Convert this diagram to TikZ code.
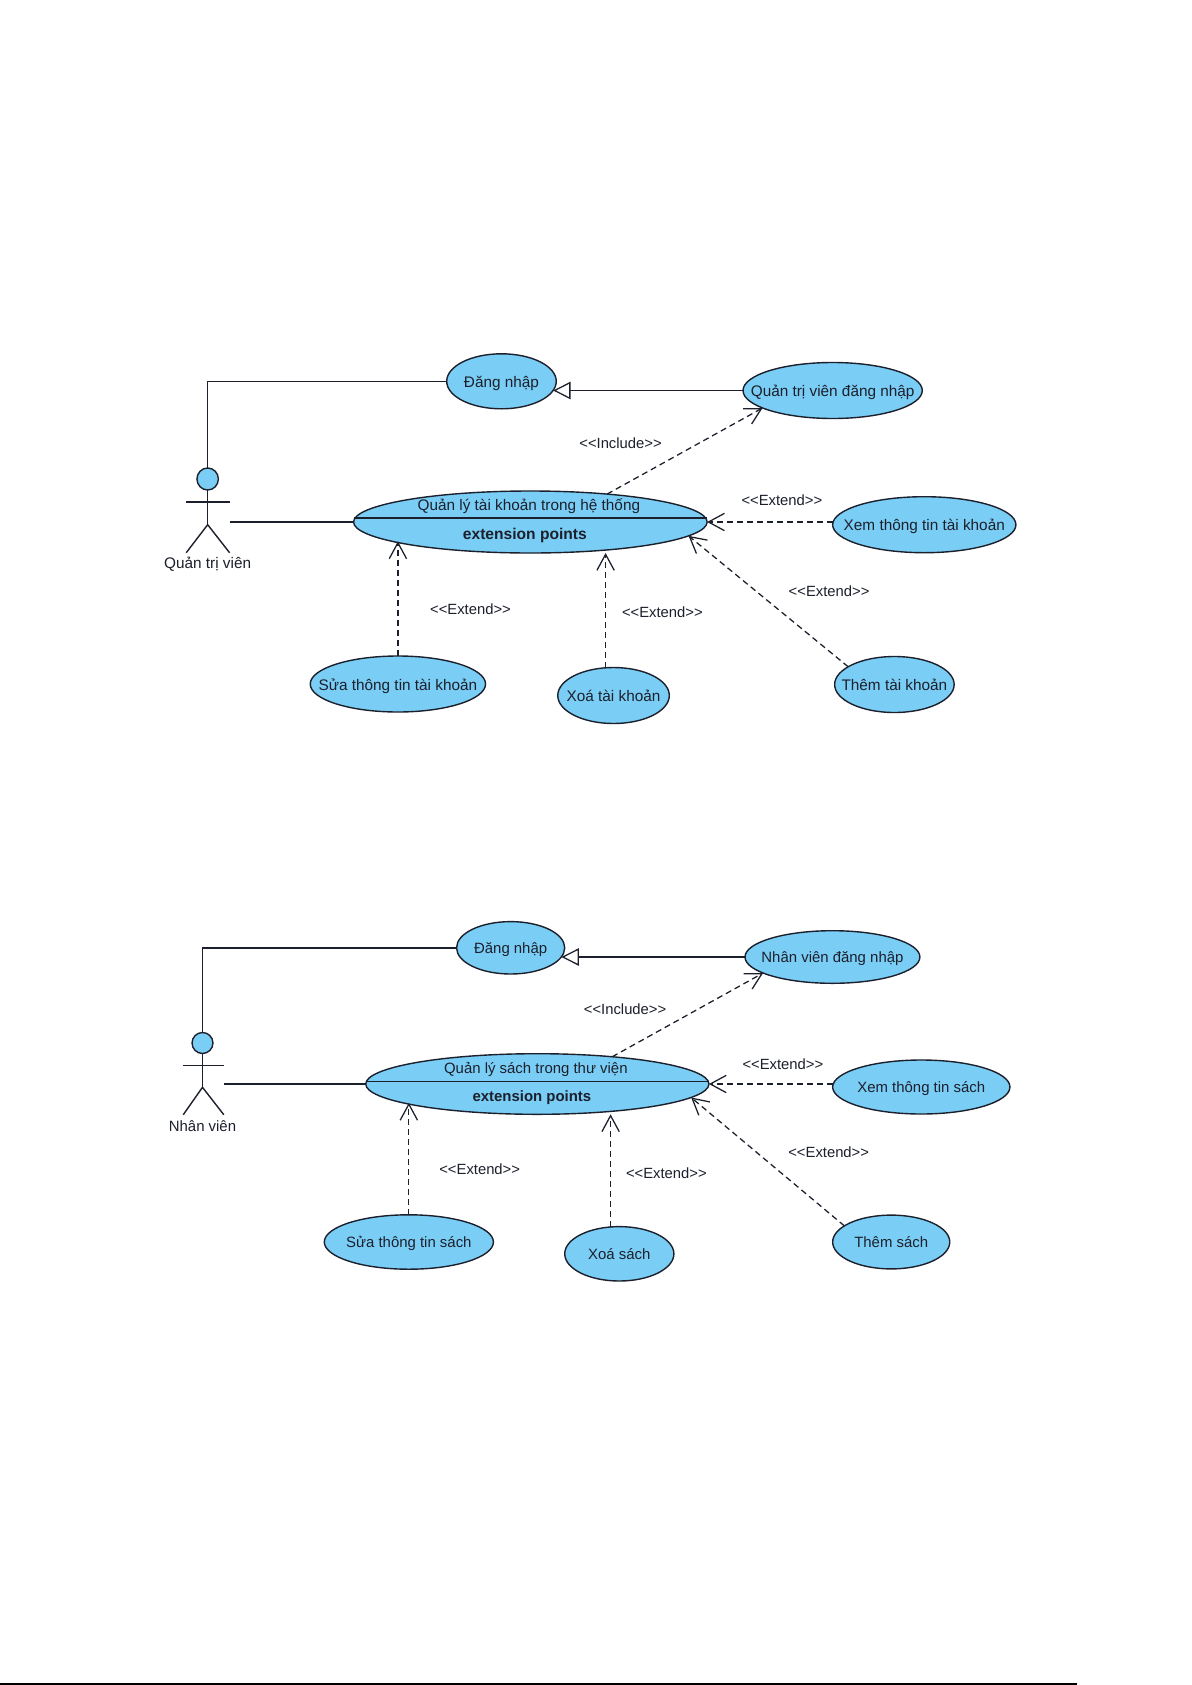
\documentclass[tikz,border=0pt]{standalone}
\usepackage{fontspec}
\setmainfont{Liberation Sans}
\usetikzlibrary{shapes.geometric,arrows.meta}
\definecolor{ucblue}{RGB}{122,205,245}
\definecolor{ln}{RGB}{28,32,44}
\newcommand{\ctext}[1]{\makebox[0pt]{\raisebox{-.4em}[0pt][0pt]{#1}}}
\newcommand{\stExt}{<{}<Extend>{}>}
\newcommand{\stInc}{<{}<Include>{}>}
\tikzset{
  x=0.747pt,y=-0.75pt,
  uc/.style 2 args={ellipse,draw=ln,fill=ucblue,line width=1.05pt,inner sep=0pt,outer sep=0pt,
    minimum width=#1*0.747pt,minimum height=#2*0.75pt,text=ln},
  fa/.style={font=\fontsize{11.5}{14}\selectfont},
  fb/.style={font=\fontsize{11.2}{14}\selectfont},
  txt/.style={text=ln,inner sep=0pt},
  lab/.style={font=\fontsize{11.1}{14}\selectfont,text=ln,inner sep=0pt},
  solidln/.style={draw=ln,line width=1.05pt},
  dep/.style={draw=ln,line width=0.95pt,dash pattern=on 4.5pt off 3pt,
    -{Straight Barb[length=12pt,width=13pt,line width=0.95pt]}},
  gen/.style={draw=ln,line width=1.05pt,-{Triangle[open,fill=white,length=13pt,width=13pt,line width=0.95pt]}},
}
\begin{document}
\begin{tikzpicture}
\useasboundingbox[fill=white] (0pt,0pt) rectangle (894pt,-1263.75pt);

% ---------- first diagram ----------
\node[uc={110}{55},fa] (dn1) at (503.5,381.3) {\ctext{Đăng nhập}};
\node[uc={180}{56},fa] (qtdn) at (836,390.5) {\ctext{Quản trị viên đăng nhập}};
\node[uc={355}{62}] (tk) at (532.5,522) {};
\node[uc={184}{56},fa] (xemtk) at (928,524.7) {\ctext{Xem thông tin tài khoản}};
\node[uc={120}{56},fa] (themtk) at (898,684.5) {\ctext{Thêm tài khoản}};
\node[uc={112}{56},fa] (xoatk) at (616,695.5) {\ctext{Xoá tài khoản}};
\node[uc={176}{56},fa] (suatk) at (399.5,684) {\ctext{Sửa thông tin tài khoản}};
\node[txt,fa] (tkT) at (531,505.7) {Quản lý tài khoản trong hệ thống};
\node[txt,font=\fontsize{11.7}{14}\selectfont\bfseries] (tkE) at (527,535) {extension points};
\coordinate (tkL) at (355,518);
\coordinate (tkR) at (710,518);
\draw[solidln] (tkL) -- (tkR);

\node[uc={21.5}{22}] (ah) at (208.5,479) {};
\coordinate (aNeck) at (208.5,524.7);
\coordinate (aArmL) at (187,502);
\coordinate (aArmR) at (230.5,502);
\coordinate (aLegL) at (187,552.7);
\coordinate (aLegR) at (230.5,552.7);
\coordinate (aHand) at (230.5,522);
\draw[solidln] (ah.south) -- (aNeck);
\draw[solidln] (aArmL) -- (aArmR);
\draw[solidln] (aLegL) -- (aNeck) -- (aLegR);
\node[txt,fa] (aL) at (208.5,564) {Quản trị viên};

\draw[solidln] (ah.north) |- (dn1.west);
\draw[solidln] (aHand) -- (tk.west);
\draw[gen] (qtdn.west) -- (qtdn.west -| dn1.-10);
\draw[dep] (tk.20.5) -- (qtdn.194.65);
\draw[dep] (xemtk.west |- tk.east) -- (tk.east);
\draw[dep] (themtk.159.9) -- (tk.-5.5);
\draw[dep] (xoatk.106.1) -- (xoatk.106.1 |- tk.south);
\draw[dep] (suatk.north) -- (suatk.north |- tk.188.69);
\node[lab] (l1a) at (623,443.7) {\stInc};
\node[lab] (l1b) at (785,500.7) {\stExt};
\node[lab] (l1c) at (832.4,591.3) {\stExt};
\node[lab] (l1d) at (665,612.3) {\stExt};
\node[lab] (l1e) at (472.4,609.3) {\stExt};

% ---------- second diagram ----------
\node[uc={108.6}{52.4},fb] (dn2) at (512.7,947.8) {\ctext{Đăng nhập}};
\node[uc={175.6}{52.6},fb] (nvdn) at (835.8,957) {\ctext{Nhân viên đăng nhập}};
\node[uc={344.6}{60.6}] (sach) at (539.5,1084) {};
\node[uc={178}{54},fb] (xems) at (925,1087) {\ctext{Xem thông tin sách}};
\node[uc={117.6}{53.8},fb] (thems) at (894.8,1242) {\ctext{Thêm sách}};
\node[uc={109.6}{54.4},fb] (xoas) at (621.8,1253.8) {\ctext{Xoá sách}};
\node[uc={169.8}{54.4},fb] (suas) at (410.5,1242) {\ctext{Sửa thông tin sách}};
\node[txt,fb] (sT) at (538,1069) {Quản lý sách trong thư viện};
\node[txt,font=\fontsize{11.2}{14}\selectfont\bfseries] (sE) at (534,1097.7) {extension points};
\coordinate (sL) at (367.3,1081.7);
\coordinate (sR) at (711.8,1081.7);
\draw[solidln] (sL) -- (sR);

\node[uc={21}{21}] (bh) at (203.3,1043) {};
\coordinate (bNeck) at (203.3,1087.3);
\coordinate (bArmL) at (184,1065.3);
\coordinate (bArmR) at (224.7,1065.3);
\coordinate (bLegL) at (184,1114.7);
\coordinate (bLegR) at (224.7,1114.7);
\coordinate (bHand) at (224.7,1084);
\draw[solidln] (bh.south) -- (bNeck);
\draw[solidln] (bArmL) -- (bArmR);
\draw[solidln] (bLegL) -- (bNeck) -- (bLegR);
\node[txt,fb] (bL) at (203.3,1126) {Nhân viên};

\draw[solidln] (bh.north) |- (dn2.west);
\draw[solidln] (bHand) -- (sach.west);
\draw[gen] (nvdn.west) -- (nvdn.west -| dn2.-10);
\draw[dep] (sach.20.3) -- (nvdn.193.7);
\draw[dep] (xems.west |- sach.east) -- (sach.east);
\draw[dep] (thems.161.15) -- (sach.-5.2);
\draw[dep] (xoas.108.15) -- (xoas.108.15 |- sach.south);
\draw[dep] (suas.north) -- (suas.north |- sach.188.8);
\node[lab] (l2a) at (627.6,1009) {\stInc};
\node[lab] (l2b) at (786,1064.3) {\stExt};
\node[lab] (l2c) at (832,1152) {\stExt};
\node[lab] (l2d) at (669,1172.7) {\stExt};
\node[lab] (l2e) at (481.6,1169.3) {\stExt};

% ---------- page rule ----------
\coordinate (ruleL) at (0,1684);
\coordinate (ruleR) at (1081,1684);
\draw[black,line width=1.2pt] (ruleL) -- (ruleR);
\end{tikzpicture}
\end{document}
